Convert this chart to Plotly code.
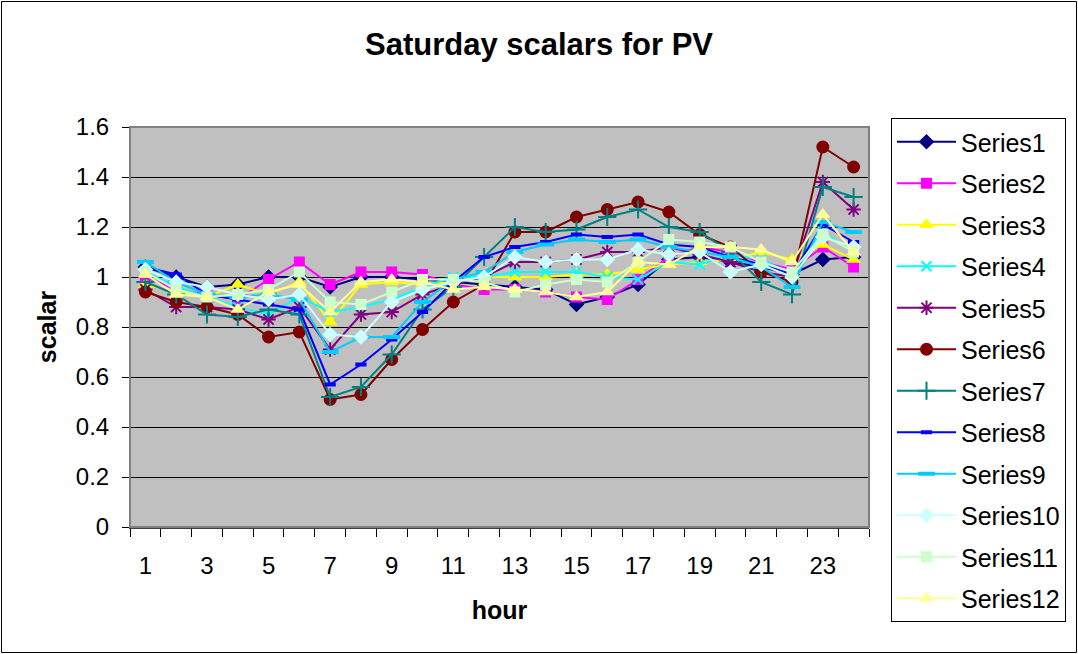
import plotly.graph_objects as go

hours = list(range(1, 25))
x_tick_vals = [1, 3, 5, 7, 9, 11, 13, 15, 17, 19, 21, 23]
x_tick_text = [str(v) for v in x_tick_vals]

series_names = ["Series1", "Series2", "Series3", "Series4", "Series5", "Series6",
                "Series7", "Series8", "Series9", "Series10", "Series11", "Series12"]

s1 = [1.04, 1.00, 0.96, 0.97, 1.00, 1.00, 0.96, 1.00, 1.00, 0.99, 0.98, 0.97, 0.96, 0.95, 0.89, 0.92, 0.97, 1.07, 1.08, 1.06, 1.04, 1.01, 1.07, 1.08]
s2 = [1.00, 0.95, 0.93, 0.91, 0.99, 1.06, 0.97, 1.02, 1.02, 1.01, 0.97, 0.95, 0.95, 0.94, 0.92, 0.91, 0.99, 1.08, 1.12, 1.10, 1.06, 1.03, 1.12, 1.04]
s3 = [0.97, 0.94, 0.92, 0.97, 0.93, 0.98, 0.82, 0.97, 0.98, 0.97, 0.98, 1.00, 1.00, 1.00, 1.01, 1.01, 1.03, 1.05, 1.06, 1.07, 1.10, 1.07, 1.13, 1.07]
s4 = [1.02, 0.96, 0.92, 0.88, 0.85, 0.92, 0.86, 0.88, 0.91, 0.96, 1.00, 1.00, 1.02, 1.02, 1.02, 1.00, 0.99, 1.06, 1.05, 1.09, 1.07, 1.01, 1.18, 1.10]
s5 = [0.95, 0.88, 0.88, 0.87, 0.83, 0.88, 0.71, 0.85, 0.86, 0.93, 0.97, 1.00, 1.06, 1.06, 1.07, 1.10, 1.10, 1.12, 1.09, 1.06, 1.02, 1.00, 1.38, 1.27]
s6 = [0.94, 0.90, 0.88, 0.85, 0.76, 0.78, 0.51, 0.53, 0.67, 0.79, 0.90, 0.97, 1.18, 1.18, 1.24, 1.27, 1.30, 1.26, 1.17, 1.12, 1.02, 0.98, 1.52, 1.44]
s7 = [0.98, 0.93, 0.85, 0.84, 0.87, 0.85, 0.52, 0.56, 0.69, 0.87, 0.96, 1.08, 1.20, 1.18, 1.19, 1.24, 1.27, 1.20, 1.18, 1.10, 0.98, 0.93, 1.36, 1.32]
s8 = [1.04, 1.01, 0.93, 0.91, 0.89, 0.87, 0.57, 0.65, 0.75, 0.86, 0.98, 1.08, 1.12, 1.14, 1.17, 1.16, 1.17, 1.13, 1.12, 1.08, 1.05, 1.01, 1.21, 1.14]
s9 = [1.06, 0.98, 0.93, 0.92, 0.93, 0.91, 0.70, 0.76, 0.76, 0.90, 0.99, 1.02, 1.10, 1.13, 1.15, 1.14, 1.15, 1.12, 1.10, 1.08, 1.04, 0.96, 1.22, 1.18]
s10 = [1.03, 0.98, 0.96, 0.93, 0.91, 0.93, 0.77, 0.76, 0.90, 0.95, 0.98, 1.00, 1.08, 1.06, 1.07, 1.07, 1.11, 1.09, 1.10, 1.02, 1.05, 1.00, 1.16, 1.12]
s11 = [1.02, 0.95, 0.92, 0.93, 0.95, 1.02, 0.90, 0.89, 0.94, 0.99, 0.99, 0.98, 0.94, 0.97, 0.99, 0.98, 1.06, 1.15, 1.14, 1.12, 1.06, 1.02, 1.17, 1.10]
s12 = [1.01, 0.93, 0.92, 0.87, 0.94, 0.97, 0.86, 0.98, 0.99, 0.98, 0.95, 0.96, 0.95, 0.94, 0.92, 0.94, 1.06, 1.05, 1.12, 1.12, 1.11, 1.06, 1.25, 1.10]
series_values = [s1, s2, s3, s4, s5, s6, s7, s8, s9, s10, s11, s12]

colors = ["#000080", "#FF00FF", "#FFFF00", "#00FFFF", "#800080", "#800000",
          "#008080", "#0000FF", "#00CCFF", "#CCFFFF", "#CCFFCC", "#FFFF99"]
symbols = ["diamond", "square", "triangle-up", "x-thin", "asterisk", "circle",
           "cross-thin", "line-ew", "line-ew", "diamond", "square", "triangle-up"]
sizes = [12, 11, 13, 10, 12, 13, 13, 8, 12, 12, 11, 13]
line_symbols = {"x-thin", "asterisk", "cross-thin", "line-ew"}

FONT = "Liberation Sans, Arial, sans-serif"

fig = go.Figure()
for i, (name, vals) in enumerate(zip(series_names, series_values)):
    sym = symbols[i]
    if sym in line_symbols:
        mk = dict(symbol=sym, size=sizes[i], color=colors[i],
                  line=dict(color=colors[i], width=4 if sym == "line-ew" else 2))
    else:
        mk = dict(symbol=sym, size=sizes[i], color=colors[i], line=dict(width=0))
    fig.add_trace(go.Scatter(
        x=hours, y=vals, name=name, mode="lines+markers",
        line=dict(color=colors[i], width=2), marker=mk,
        legendgroup=name,
    ))

L, R, T, B = 130, 869, 127, 527
W, H = 1078, 654
pw, ph = R - L, B - T
def px(xp):
    return (xp - L) / pw
def py(yp):
    return (B - yp) / ph

fig.add_shape(type="rect", xref="paper", yref="paper", x0=0, x1=1, y0=0, y1=1,
              line=dict(color="#808080", width=2), fillcolor="rgba(0,0,0,0)", layer="above")
fig.add_shape(type="rect", xref="paper", yref="paper",
              x0=px(1.5), x1=px(W - 1.5), y0=py(H - 1.5), y1=py(1.5),
              line=dict(color="black", width=1), fillcolor="rgba(0,0,0,0)")

fig.update_layout(
    width=W, height=H,
    margin=dict(l=L, r=W - R, t=T, b=H - B, autoexpand=False),
    paper_bgcolor="white",
    plot_bgcolor="#C0C0C0",
    font=dict(family=FONT, size=24, color="black"),
    title=dict(text="<b>Saturday scalars for PV</b>", x=0.5, xref="container", xanchor="center",
               y=1 - 44 / H, yref="container", yanchor="middle",
               font=dict(size=31, family=FONT, color="black")),
    xaxis=dict(
        range=[0.5, 24.5], tickmode="array", tickvals=x_tick_vals, ticktext=x_tick_text,
        ticks="", showgrid=False, zeroline=False, automargin=False,
        showline=True, linecolor="#404040", linewidth=2,
        ticklabelstandoff=16,
        minor=dict(tick0=0.5, dtick=1, ticks="outside", ticklen=8, tickcolor="black",
                   tickwidth=1, showgrid=False),
        title=dict(text="<b>hour</b>", font=dict(size=25, family=FONT), standoff=24),
        tickfont=dict(size=24),
    ),
    yaxis=dict(
        range=[0, 1.6], dtick=0.2, tick0=0, ticks="outside", ticklen=7, tickcolor="black",
        showgrid=True, gridcolor="black", gridwidth=1, zeroline=False, automargin=False,
        showline=True, linecolor="black", linewidth=1,
        ticklabelstandoff=8,
        title=dict(text="<b>scalar</b>", font=dict(size=25, family=FONT), standoff=12),
        tickfont=dict(size=24),
    ),
    legend=dict(
        x=px(891), y=py(118), xanchor="left", yanchor="top",
        bordercolor="black", borderwidth=1, bgcolor="white",
        traceorder="grouped", tracegroupgap=6,
        itemwidth=59, maxheight=600,
        font=dict(size=25, family=FONT),
    ),
    showlegend=True,
)

fig.write_html("out.html", config={"displayModeBar": False},
               post_script="document.body.style.margin='0px';")
